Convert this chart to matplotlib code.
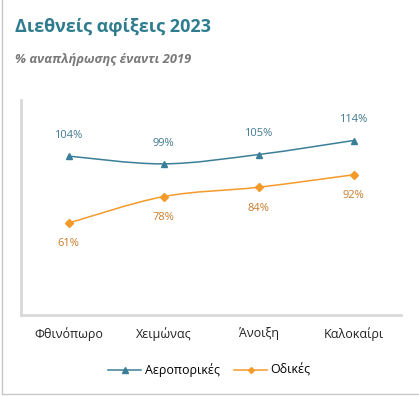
import numpy as np
import matplotlib.pyplot as plt
import matplotlib as mpl
from matplotlib.path import Path
from matplotlib.patches import PathPatch
from matplotlib.lines import Line2D

mpl.rcParams['font.family'] = ['Open Sans', 'DejaVu Sans']

seasons = ['Φθινόπωρο', 'Χειμώνας', 'Άνοιξη', 'Καλοκαίρι']
air = [104, 99, 105, 114]
road = [61, 78, 84, 92]
series_names = ['Αεροπορικές', 'Οδικές']

c_air = '#3a7f97'; c_road = '#f39a2b'
c_air_txt = '#41798f'; c_road_txt = '#c97c2c'


def smooth_path(xs, ys, t=1/6.):
    # catmull-rom style bezier, like excel "smoothed line"
    xs = list(xs); ys = list(ys)
    n = len(xs)
    verts = [(xs[0], ys[0])]; codes = [Path.MOVETO]
    for i in range(n - 1):
        x0, y0 = (xs[i-1], ys[i-1]) if i > 0 else (xs[i], ys[i])
        x3, y3 = (xs[i+2], ys[i+2]) if i + 2 < n else (xs[i+1], ys[i+1])
        c1 = (xs[i] + (xs[i+1] - x0) * t, ys[i] + (ys[i+1] - y0) * t)
        c2 = (xs[i+1] - (x3 - xs[i]) * t, ys[i+1] - (y3 - ys[i]) * t)
        verts += [c1, c2, (xs[i+1], ys[i+1])]
        codes += [Path.CURVE4] * 3
    return Path(verts, codes)


fig = plt.figure(figsize=(4.19, 3.96), dpi=100)
ax = fig.add_axes([21/419, 1-315/396, 380/419, 215/396])
x = np.arange(len(seasons))

ax.add_patch(PathPatch(smooth_path(x, air), facecolor='none', edgecolor=c_air, lw=1.1))
ax.add_patch(PathPatch(smooth_path(x, road), facecolor='none', edgecolor=c_road, lw=1.1))
ax.plot(x, air, ls='none', marker='^', ms=5, color=c_air)
ax.plot(x, road, ls='none', marker='D', ms=4, color=c_road)

for i in range(len(x)):
    ax.annotate(f'{air[i]}%', (x[i], air[i]), xytext=(0, 11), textcoords='offset points',
                ha='center', va='bottom', fontsize=8, color=c_air_txt)
    ax.annotate(f'{road[i]}%', (x[i], road[i]), xytext=(0, -11), textcoords='offset points',
                ha='center', va='top', fontsize=8, color=c_road_txt)

ax.set_xlim(-0.5, 3.5); ax.set_ylim(2, 140)
ax.set_yticks([])
ax.set_xticks(x); ax.set_xticklabels(seasons, fontsize=9, color='#222222')
ax.tick_params(axis='x', length=0, pad=9)
for s in ['top', 'right']:
    ax.spines[s].set_visible(False)
for s in ['left', 'bottom']:
    ax.spines[s].set_color('#d9d9d9'); ax.spines[s].set_linewidth(2)

handles = [Line2D([], [], color=c_air, marker='^', ms=4, lw=1.1),
           Line2D([], [], color=c_road, marker='D', ms=3, lw=1.1)]
fig.legend(handles, series_names, loc='center', bbox_to_anchor=(0.5, 1-370/396), ncol=2,
           frameon=False, fontsize=9, handlelength=2.6, columnspacing=1.2, handletextpad=0.3)

fig.text(15/419, 1-27/396, 'Διεθνείς αφίξεις 2023', fontsize=13, fontweight='bold',
         color='#2f7c8e', va='center')
fig.text(15/419, 1-60/396, '% αναπλήρωσης έναντι 2019', fontsize=9.3, fontweight='bold',
         style='italic', color='#7a7a7a', va='center')

fig.add_artist(Line2D([2/419, 2/419], [2/396, 1], color='#c8c8c8', lw=1, transform=fig.transFigure))
fig.add_artist(Line2D([2/419, 1], [2/396, 2/396], color='#c8c8c8', lw=1, transform=fig.transFigure))

fig.savefig('out.png', dpi=100)
